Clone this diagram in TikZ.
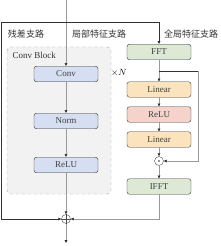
\documentclass[tikz,border=0pt]{standalone}
\usepackage{fontspec}
\usetikzlibrary{arrows.meta}
\setmainfont{Liberation Serif}
\newfontfamily\cjk{Noto Sans CJK SC}
\definecolor{convblue}{HTML}{D6DEF2}
\definecolor{fftgreen}{HTML}{DDE9D5}
\definecolor{linorange}{HTML}{FBE3BD}
\definecolor{relupink}{HTML}{F5D3CB}
\definecolor{blockgray}{HTML}{F2F2F2}
\tikzset{
  blk/.style={draw=black!80,rounded corners=2.5pt,minimum width=64pt,minimum height=15.5pt,inner sep=0pt,text=black!75},
  opnode/.style={draw=black!70,circle,minimum size=9pt,inner sep=0pt},
  conn/.style={gray!80,line width=.4pt},
  tip/.style={-{Latex[length=3pt,width=3pt,black!85]}},
}
\begin{document}
\begin{tikzpicture}[x=1pt,y=-1pt,font=\fontsize{9}{10}\selectfont]
	\useasboundingbox (0,0) rectangle (220,246);
	\draw[dashed,gray!70,fill=blockgray,rounded corners=4pt] (7,47) rectangle (111,194);
	\node[anchor=west,text=black!80] (cb) at (9,55) {Conv Block};
	
	\node[text=black!80] (res) at (26,34) {\cjk 残差支路};
	\node[text=black!80] (loc) at (99,34) {\cjk 局部特征支路};
	\node[text=black!80] (glo) at (191,34) {\cjk 全局特征支路};
	
	\node[blk,fill=convblue] (conv) at (66,74) {Conv};
	\node[blk,fill=convblue] (norm) at (66,121) {Norm};
	\node[blk,fill=convblue] (relu) at (66,165) {ReLU};
	
	\node[blk,fill=fftgreen] (fft) at (159,52) {FFT};
	\node[blk,fill=linorange] (lin1) at (159,89.5) {Linear};
	\node[blk,fill=relupink] (relu2) at (159,114.5) {ReLU};
	\node[blk,fill=linorange] (lin2) at (159,139.5) {Linear};
	\node[opnode] (mul) at (159,161) {};
	\fill[black!80] (mul) circle (.8pt);
	\node[blk,fill=fftgreen] (ifft) at (159,186.5) {IFFT};
	\node[opnode] (add) at (66,219) {};
	\draw[black!70] (add.north)--(add.south) (add.west)--(add.east);
	\node (xn) at (119,73) {$\times N$};
	
	\coordinate (in) at (66,0);
	\coordinate (split) at (66,22);
	\coordinate (resL) at (1,22);
	\coordinate (br) at (159,71);
	\coordinate (skipR) at (198,71);
	\coordinate (out) at (66,243);
	
	\draw[conn,tip] (in) -- (conv);
	\draw[conn,tip] (conv) -- (norm);
	\draw[conn,tip] (norm) -- (relu);
	\draw[conn,tip] (relu) -- (add);
	\draw[black!80,tip] (split) -| (fft);
	\draw[black!80,tip] (split) -- (resL) |- (add);
	\draw[conn,tip] (fft) -- (lin1);
	\draw[conn,tip] (lin1) -- (relu2);
	\draw[conn,tip] (relu2) -- (lin2);
	\draw[conn,tip] (lin2) -- (mul);
	\draw[conn,tip] (mul) -- (ifft);
	\draw[conn,tip] (ifft) |- (add);
	\draw[black!80] (br) -- (skipR);
	\draw[conn,tip] (skipR) |- (mul);
	\draw[conn,tip] (add) -- (out);
\end{tikzpicture}
\end{document}
